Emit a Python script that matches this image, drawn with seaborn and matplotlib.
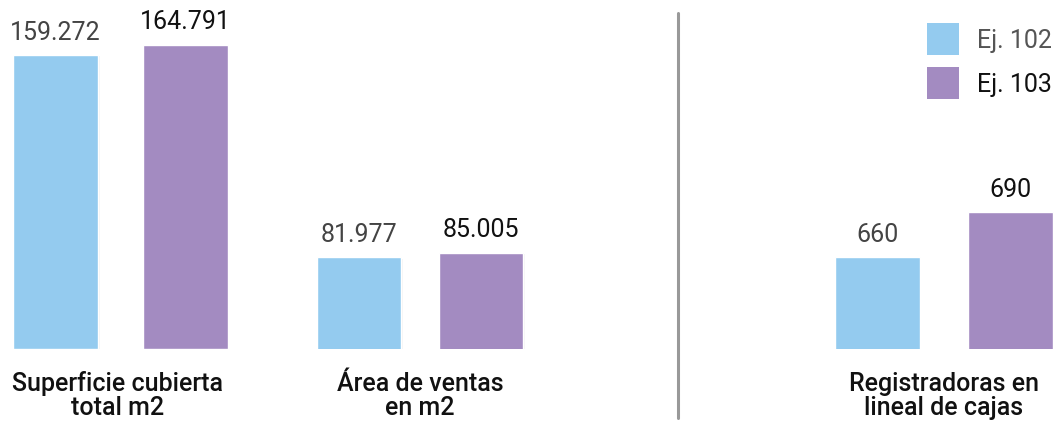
import matplotlib
matplotlib.use("Agg")
import matplotlib.pyplot as plt
import seaborn as sns
import pandas as pd
from matplotlib.patches import Rectangle
from matplotlib import patheffects as pe

# ---- data ----
series = ["Ej. 102", "Ej. 103"]
categories = ["Superficie cubierta\ntotal m2", "Área de ventas\nen m2", "Registradoras en\nlineal de cajas"]
values_102 = [159272, 81977, 660]
values_103 = [164791, 85005, 690]
value_labels_102 = ["159.272", "81.977", "660"]
value_labels_103 = ["164.791", "85.005", "690"]
colors = ["#94CBEF", "#A38BC1"]
value_text_colors = ["#444444", "#111111"]
legend_text_colors = ["#555555", "#111111"]

sns.set_theme(style="white")
plt.rcParams["font.family"] = ["Roboto", "DejaVu Sans"]

W, H = 1056, 421
fig = plt.figure(figsize=(W / 100, H / 100), dpi=100)

# axes layout in pixels: (left, width, bar width fraction, y-min, y-max)
bottom_px = 349
top_px = 10
layouts = [
    (-9.1, 259.4, 0.655, 0.0, 183.65),
    (298.2, 244.0, 0.689, 21.61, 244.8),
    (811.0, 266.0, 0.635, 598.9, 824.9),
]
label_centers = [118, 420, 944]

shadow = [pe.SimplePatchShadow(offset=(0, -2), shadow_rgbFace="#888888", alpha=0.12),
          pe.SimplePatchShadow(offset=(1, -1), shadow_rgbFace="#888888", alpha=0.08),
          pe.Normal()]

for i, (lx, wx, bw, y0, y1) in enumerate(layouts):
    ax = fig.add_axes([lx / W, (H - bottom_px) / H, wx / W, (bottom_px - top_px) / H])
    scale = 1000 if i < 2 else 1
    df = pd.DataFrame({"serie": series,
                       "valor": [values_102[i] / scale, values_103[i] / scale]})
    sns.barplot(data=df, x="serie", y="valor", hue="serie", palette=colors,
                saturation=1, width=bw, ax=ax, legend=False,
                edgecolor="white", linewidth=1)
    ax.set_xlim(-0.5, 1.5)
    ax.set_ylim(y0, y1)
    ax.axis("off")
    for j, cont in enumerate(ax.containers):
        for p in cont.patches:
            p.set_path_effects(shadow)
        ax.bar_label(cont, labels=[[value_labels_102[i], value_labels_103[i]][j]],
                     padding=7.5, fontsize=18, color=value_text_colors[j])
    fig.text(label_centers[i] / W, (H - 415) / H, categories[i], ha="center",
             va="baseline", ma="center", fontsize=18, fontweight="medium",
             color="#111111", linespacing=1.0)

# divider line
fig.add_artist(plt.Line2D([678 / W, 678 / W], [(H - 13) / H, (H - 418) / H],
                          color="#999999", linewidth=2.2, transform=fig.transFigure))

# legend
for k, (name, c, tc) in enumerate(zip(series, colors, legend_text_colors)):
    y_top = 22.7 + k * 44
    fig.add_artist(Rectangle((926.7 / W, (H - y_top - 32.3) / H), 32.3 / W, 32.3 / H,
                             facecolor=c, edgecolor="none", transform=fig.transFigure))
    fig.text(976.7 / W, (H - y_top - 16) / H, name, ha="left", va="center_baseline",
             fontsize=18, color=tc)

fig.savefig("out.png", dpi=100)
